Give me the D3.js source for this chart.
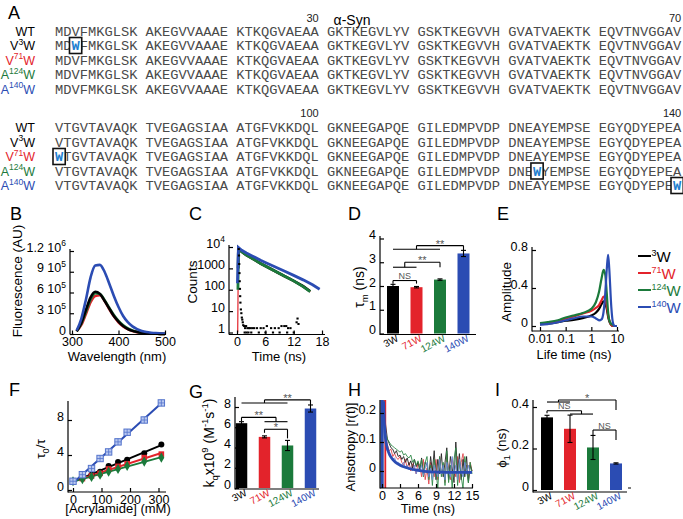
<!DOCTYPE html>
<html><head><meta charset="utf-8">
<script src="https://cdn.jsdelivr.net/npm/d3@7/dist/d3.min.js"></script>
<style>
body{margin:0;background:#fff}
svg text{font-family:"Liberation Sans",Arial,sans-serif}
svg text.mono{font-family:"Liberation Mono","DejaVu Sans Mono",monospace;white-space:pre}
</style></head>
<body><svg id="fig" width="683" height="519"></svg>
<script>
// ================= DATA =================
const variants = ["3W","71W","124W","140W"];
const colors = ["#000000","#e3232b","#1b7a3b","#2b4cb3"];

// Panel A – sequences
const seqLabelBase = ["WT","V","V","A","A"];
const seqLabelSup  = ["","3","71","124","140"];
const seqLabelColor = ["#000000","#000000","#e3232b","#1b7a3b","#2b4cb3"];
const seqBlock1 = ["MDVFMKGLSK","AKEGVVAAAE","KTKQGVAEAA","GKTKEGVLYV","GSKTKEGVVH","GVATVAEKTK","EQVTNVGGAV"];
const seqBlock2 = ["VTGVTAVAQK","TVEGAGSIAA","ATGFVKKDQL","GKNEEGAPQE","GILEDMPVDP","DNEAYEMPSE","EGYQDYEPEA"];
const seqMutation = [null,3,71,124,140];
const seqNumbers = [30,70,100,140];

// Panel B – emission spectra (x1e5)
const bWavelength = [310,320,330,340,350,360,370,380,390,400,410,420,430,440,450,460,470,480,490,500];
const b3W   = [0.4,1.6,3.5,5.3,6.1,5.8,4.8,3.7,2.6,1.8,1.15,0.72,0.45,0.28,0.17,0.1,0.06,0.04,0.02,0.01];
const b71W  = [0.4,1.3,2.9,4.6,5.5,5.6,4.8,3.6,2.55,1.7,1.1,0.7,0.44,0.27,0.17,0.1,0.06,0.04,0.02,0.01];
const b124W = [0.4,1.5,3.2,5.0,5.9,5.8,4.9,3.8,2.75,1.9,1.25,0.8,0.5,0.31,0.19,0.12,0.07,0.04,0.02,0.01];
const b140W = [0.5,2.2,5.0,8.2,9.9,10.0,9.0,7.3,5.5,3.9,2.6,1.7,1.1,0.7,0.45,0.29,0.19,0.12,0.08,0.05];
const bTicks = [0,3e5,6e5,9e5,1.2e6];

// Panel C – fluorescence decays (counts)
const cTime3W   = [0.25,0.3,1,2,3,4,5,6,8,10,12,14,15.5];
const cCount3W  = [1000,8600,6000,4200,3100,2300,1700,1300,750,440,260,145,84];
const cTime71W  = [0.15,0.3,1,2,3,4,5,6,8,10,12,14,15.5];
const cCount71W = [1,8300,5800,4050,3000,2200,1640,1250,720,420,250,140,80];
const cTime124W = [0.2,0.3,1,2,3,4,5,6,8,10,12,14,15.5];
const cCount124W= [100,8500,6000,4200,3100,2300,1700,1300,750,440,260,140,82];
const cTime140W = [0.1,0.3,1,2,3,4,5,6,8,10,12,14,16,17.5];
const cCount140W= [200,9500,7000,5200,4000,3100,2400,1900,1200,750,470,290,170,105];
const cIrfTime  = [0.35,0.4,0.45,0.5,0.55,0.6,0.65,0.7,0.8,0.9,1.0,1.1,1.2,1.3,1.5,1.7,1.9,2.2,2.5,2.8,3.2,3.6,4.2,5.0,5.6,6.3,7.2,8.0,8.8,9.4,10.0,10.4,10.8,11.3,12.6,12.8,13.0,1.6,2.0,2.4,3.0,4.6,6.0,7.6,9.0,10.6,12.0];
const cIrfCount = [8000,4000,1600,600,250,110,50,25,12,8,5,4,3,2.2,2,1.6,2,1.6,1.6,1.6,1.6,1.6,1.6,1.6,1.6,2,1.6,1.6,1.6,2,2,2,1.6,1.6,3,4.5,2.5,1,1,1,1,1,1,1,1,1,1];
const cYTicks = [1,10,100,1000,10000];
const cXTicks = [0,6,12,18];

// Panel D – mean lifetime (ns)
const dTau = [2.0,1.95,2.27,3.37];
const dErr = [0.07,0.03,0.03,0.13];

// Panel E – lifetime distributions
const eLifetime = [0.01,0.02,0.05,0.1,0.2,0.5,1,1.5,2,2.5,3,3.5,4,4.5,5,6,7,8,10];
const e3W   = [0.02,0.025,0.04,0.055,0.065,0.085,0.11,0.14,0.18,0.23,0.26,0.24,0.18,0.1,0.05,0.01,0,0,0];
const e71W  = [0.02,0.03,0.05,0.08,0.1,0.135,0.16,0.19,0.22,0.27,0.31,0.29,0.21,0.12,0.06,0.01,0,0,0];
const e124W = [0.03,0.04,0.06,0.09,0.11,0.14,0.18,0.25,0.36,0.5,0.59,0.54,0.34,0.15,0.06,0.02,0.01,0,0];
const e140W = [0.015,0.02,0.04,0.06,0.08,0.1,0.1,0.08,0.06,0.07,0.15,0.35,0.6,0.75,0.6,0.2,0.03,0,0];

// Panel F – Stern-Volmer
const fAcrylamide = [0,33,65,95,125,158,190,250,310];
const f3W   = [1.0,1.35,1.75,2.1,2.75,3.2,3.45,4.2,5.2];
const f71W  = [1.0,1.3,1.6,1.9,2.4,2.7,3.0,3.7,4.1];
const f124W = [1.0,1.25,1.5,1.75,2.1,2.4,2.75,3.25,3.7];
const f140W = [1.0,1.75,2.45,3.6,4.35,5.5,6.6,8.0,9.95];

// Panel G – kq x1e9
const gKq  = [6.4,5.05,4.2,7.85];
const gErr = [0.15,0.1,0.5,0.35];

// Panel H – anisotropy decays
const hTime = [0.3,0.6,0.9,1.2,1.5,1.8,2.1,2.4,2.7,3.0,3.3,3.6,3.9,4.2,4.5,4.8,5.1,5.4,5.7,6.0,6.3,6.6,6.9,7.2,7.5,7.8,8.1,8.4,8.7,9.0,9.3,9.6,9.9,10.2,10.5,10.8,11.1,11.4,11.7,12.0,12.3,12.6,12.9,13.2,13.5,13.8,14.1,14.4,14.7,15.0];
const h3W   = [0.26,0.16,0.11,0.095,0.08,0.075,0.06,0.07,0.05,0.055,0.04,0.05,0.03,0.045,0.02,0.035,0.01,0.04,0.015,0.03,0.0,0.045,-0.01,0.03,0.02,-0.02,0.05,0.0,0.07,-0.03,0.04,-0.01,0.06,-0.02,0.03,0.08,-0.03,0.05,0.01,-0.04,0.1,0.0,0.06,-0.03,0.04,-0.02,0.05,-0.04,0.02,0.0];
const h71W  = [0.25,0.12,0.09,0.07,0.075,0.05,0.06,0.045,0.04,0.05,0.03,0.02,0.04,0.01,0.03,0.0,0.025,0.01,-0.01,0.03,0.02,-0.02,0.04,-0.03,0.01,-0.045,0.03,0.0,-0.02,0.04,-0.03,0.05,-0.01,0.02,-0.04,0.06,0.0,-0.03,0.04,0.01,-0.02,0.05,-0.04,0.03,0.06,-0.01,0.02,-0.03,0.03,0.0];
const h124W = [0.22,0.13,0.11,0.1,0.09,0.085,0.08,0.075,0.07,0.065,0.07,0.055,0.06,0.05,0.045,0.055,0.03,0.04,0.02,0.035,0.01,0.04,-0.02,0.03,0.05,-0.03,0.02,-0.05,0.04,0.0,-0.06,0.05,-0.02,0.03,-0.05,0.07,-0.04,0.02,-0.06,0.04,0.08,-0.05,0.03,-0.02,-0.06,0.05,0.0,-0.04,0.03,-0.01];
const h140W = [0.2,0.1,0.07,0.06,0.05,0.04,0.045,0.03,0.03,0.025,0.02,0.03,0.01,0.02,0.005,0.015,0.0,0.02,-0.01,0.01,0.0,0.02,-0.015,0.01,0.03,-0.02,0.01,-0.03,0.02,0.0,-0.02,0.04,-0.01,0.02,-0.03,0.03,0.0,-0.02,0.05,-0.01,0.02,-0.03,0.04,0.0,-0.02,0.03,-0.01,0.02,-0.01,0.0];
const hFitTime = [0.25,0.4,0.6,0.8,1.0,1.3,1.6,2,2.5,3,4,5,6,8,10,12,15];
const hFit140  = [0.24,0.16,0.11,0.085,0.07,0.055,0.045,0.035,0.026,0.02,0.012,0.006,0.002,-0.003,-0.004,-0.005,-0.005];
const hRiseTime = [null,0.55,null,0.02];

// Panel I – rotational correlation time
const iPhi = [0.35,0.295,0.205,0.128];
const iErr = [0.01,0.066,0.058,0.003];

// ================= DRAWING =================
const svg = d3.select("#fig");
const TF = 12.5; // tick font

function rich(sel, parts, fs, supScale){
  let shift = 0;
  const sc = supScale || 0.68;
  parts.forEach(p => {
    const t = p[0], k = p[1] || "";
    const target = k === "sup" ? -0.42*fs : (k === "sub" ? 0.3*fs : 0);
    const ts = sel.append("tspan").text(t).attr("dy", target - shift);
    if (k) ts.attr("font-size", fs*sc);
    shift = target;
  });
  return sel;
}
function label(t, x, y){ svg.append("text").attr("x",x).attr("y",y).attr("font-size",18).text(t); }
function hline(g, x1, x2, y, w){ g.append("line").attr("x1",x1).attr("x2",x2).attr("y1",y).attr("y2",y).attr("stroke","#000").attr("stroke-width",w||1.2); }
function vline(g, x, y1, y2, w){ g.append("line").attr("x1",x).attr("x2",x).attr("y1",y1).attr("y2",y2).attr("stroke","#000").attr("stroke-width",w||1.2); }
function yTitle(x, y, parts, fs){
  const t = svg.append("text").attr("transform",`translate(${x},${y}) rotate(-90)`).attr("text-anchor","middle").attr("font-size",fs||13);
  rich(t, parts, fs||13);
}
function xTitle(x, y, txt, fs){
  svg.append("text").attr("x",x).attr("y",y).attr("text-anchor","middle").attr("font-size",fs||13).text(txt);
}
function leftAxis(scale, x, ticks, fmt){
  const g = svg.append("g").attr("transform",`translate(${x},0)`)
    .call(d3.axisLeft(scale).tickValues(ticks).tickSizeInner(-4).tickSizeOuter(0).tickPadding(4).tickFormat(()=>""));
  g.select(".domain").remove();
  g.selectAll(".tick line").attr("stroke","#000").attr("stroke-width",1.2);
  g.selectAll(".tick text").attr("font-size",TF).attr("fill","#000")
    .each(function(d){ rich(d3.select(this), fmt(d), TF); });
  return g;
}
function bottomAxis(scale, y, ticks, fmt){
  const g = svg.append("g").attr("transform",`translate(0,${y})`)
    .call(d3.axisBottom(scale).tickValues(ticks).tickSizeInner(-4).tickSizeOuter(0).tickPadding(3).tickFormat(fmt));
  g.select(".domain").remove();
  g.selectAll(".tick line").attr("stroke","#000").attr("stroke-width",1.2);
  g.selectAll(".tick text").attr("font-size",TF).attr("fill","#000");
  return g;
}
const plain = d => [[String(d)]];

// ---------- Panel A ----------
label("A", 8, 19);
svg.append("text").attr("x",352).attr("y",25).attr("text-anchor","middle").attr("font-size",14).text("α-Syn");
const seqX0 = 55, cw = 8.24, seqFS = 13.7;
const rowY = [[35.5,50,64.5,79,93.5],[132,146.5,161,175.5,190]];
const numY = [22, 117];
[seqBlock1, seqBlock2].forEach((block, bi) => {
  const nums = seqNumbers.slice(bi*2, bi*2+2);
  nums.forEach((n, j) => {
    const gIdx = j === 0 ? 2 : 6;
    svg.append("text").attr("x", seqX0 + (gIdx*11+10)*cw).attr("y", numY[bi])
      .attr("text-anchor","end").attr("font-size",11).attr("fill","#222").text(n);
  });
  seqLabelBase.forEach((base, r) => {
    const y = rowY[bi][r];
    const lt = svg.append("text").attr("x",35).attr("y",y).attr("text-anchor","end").attr("font-size",12.5).attr("fill",seqLabelColor[r]);
    if (seqLabelSup[r]) rich(lt, [[base],[seqLabelSup[r],"sup"],["W"]], 12.5); else lt.text(base);
    const mut = seqMutation[r];
    block.forEach((grp, gi) => {
      let s = grp;
      let mIdx = -1;
      if (mut !== null) {
        const local = mut - 1 - bi*70;
        if (local >= 0 && local < 70 && Math.floor(local/10) === gi) {
          mIdx = local % 10;
          s = grp.slice(0,mIdx) + "\u00a0" + grp.slice(mIdx+1);
        }
      }
      svg.append("text").attr("class","mono").attr("x", seqX0 + gi*11*cw).attr("y", y)
        .attr("font-size",seqFS).attr("textLength",10*cw).attr("lengthAdjust","spacingAndGlyphs")
        .attr("fill","#4a4a4a").text(s);
      if (mIdx >= 0) {
        const cx = seqX0 + (gi*11 + mIdx)*cw;
        svg.append("rect").attr("x",cx-2).attr("y",y-12.5).attr("width",cw+4).attr("height",16)
          .attr("fill","#fff").attr("stroke","#111").attr("stroke-width",1.6);
        svg.append("text").attr("class","mono").attr("x",cx+cw/2).attr("y",y).attr("text-anchor","middle")
          .attr("font-size",seqFS).attr("font-weight","bold").attr("fill","#1f7fd0").text("W");
      }
    });
  });
});

// ---------- Panel B ----------
label("B", 10, 220);
{
  const x = d3.scaleLinear().domain([300,500]).range([72,165]);
  const y = d3.scaleLinear().domain([0,1.2e6]).range([334,251]);
  const series = [b3W,b71W,b124W,b140W];
  const line = d3.line().x((d,i)=>x(bWavelength[i])).y(d=>y(d*1e5)).curve(d3.curveMonotoneX);
  [1,2,0,3].forEach(k => {
    svg.append("path").attr("d", line(series[k])).attr("fill","none").attr("stroke",colors[k]).attr("stroke-width",2.6);
  });
  const g = svg.append("g");
  vline(g, 70, 334.5, 249); hline(g, 70, 166, 334.5);
  leftAxis(y, 70, bTicks, d => d === 0 ? [["0"]] : [[d === 1.2e6 ? "1.2 10" : String(d/1e5)+" 10"],[d === 1.2e6 ? "6" : "5","sup"]]);
  bottomAxis(x, 334.5, [300,400,500], d3.format("d"));
  yTitle(22, 281, [["Fluorescence (AU)"]], 13.5);
  xTitle(117, 361, "Wavelength (nm)");
}

// ---------- Panel C ----------
label("C", 189, 220);
{
  const x = d3.scaleLinear().domain([0,18]).range([237,322]);
  const y = d3.scaleLog().domain([1,1e4]).range([332.5,247]);
  svg.append("clipPath").attr("id","clipC").append("rect").attr("x",229).attr("y",240).attr("width",100).attr("height",95);
  const gp = svg.append("g").attr("clip-path","url(#clipC)");
  const ts = [cTime3W,cTime71W,cTime124W,cTime140W];
  const cs = [cCount3W,cCount71W,cCount124W,cCount140W];
  [0,1,2,3].forEach(k => {
    const line = d3.line().x((d,i)=>x(ts[k][i])).y(d=>y(d));
    gp.append("path").attr("d", line(cs[k])).attr("fill","none").attr("stroke",colors[k]).attr("stroke-width",k===1?1.2:2.8);
  });
  cIrfTime.forEach((t,i) => {
    gp.append("rect").attr("x",x(t)-1).attr("y",y(cIrfCount[i])-1).attr("width",2.2).attr("height",2).attr("fill","#000");
  });
  const g = svg.append("g");
  vline(g, 229, 334.5, 245); hline(g, 229, 325, 334.5);
  leftAxis(y, 229, cYTicks, d => d === 10000 ? [["10"],["4","sup"]] : [[String(d)]]);
  bottomAxis(x, 334.5, cXTicks, d3.format("d"));
  yTitle(197, 282, [["Counts"]], 13.5);
  xTitle(279, 361, "Time (ns)");
}

// bar-chart helper
function barPanel(opts){
  const x = d3.scalePoint().domain(variants).range(opts.xr);
  const y = d3.scaleLinear().domain(opts.yd).range(opts.yr);
  const g = svg.append("g");
  opts.vals.forEach((v,i) => {
    const cx = x(variants[i]);
    g.append("rect").attr("x",cx-opts.bw/2).attr("y",y(v)).attr("width",opts.bw).attr("height",y(0)-y(v)).attr("fill",colors[i]);
    const e = opts.err[i];
    g.append("line").attr("x1",cx).attr("x2",cx).attr("y1",y(v-e)).attr("y2",y(v+e)).attr("stroke","#000").attr("stroke-width",1.1);
    hline(g, cx-2.5, cx+2.5, y(v+e), 1.1);
    hline(g, cx-2.5, cx+2.5, y(v-e), 1.1);
  });
  vline(g, opts.ax, opts.axisY+0.5, opts.axTop); hline(g, opts.ax, opts.axRight, opts.axisY);
  leftAxis(y, opts.ax, opts.ticks, opts.fmt);
  variants.forEach((v,i) => {
    const cx = x(v) + 6;
    svg.append("text").attr("transform",`translate(${cx},${opts.axisY+6}) rotate(-28)`).attr("text-anchor","end")
      .attr("font-size",10).attr("fill",colors[i]).text(v);
  });
  opts.brackets.forEach(b => {
    const attach = (grp, yLine) => {
      if (grp.length > 1) {
        const xa = x(variants[grp[0]]), xb = x(variants[grp[grp.length-1]]);
        hline(g, xa, xb, y(yLine), 1.1);
        const m = (xa+xb)/2;
        vline(g, m, y(yLine), y(b.top), 1.1);
        return m;
      } else {
        const xa = x(variants[grp[0]]);
        vline(g, xa, y(b.top), y(yLine), 1.1);
        return xa;
      }
    };
    const xl = attach(b.L, b.lLine), xr = attach(b.R, b.rLine);
    hline(g, xl, xr, y(b.top), 1.1);
    svg.append("text").attr("x",(xl+xr)/2).attr("y",y(b.top)-(b.text==="NS"?1.5:-2)).attr("text-anchor","middle")
      .attr("font-size",b.text==="NS"?9:11).attr("fill","#555").text(b.text);
  });
  return {x,y};
}

// ---------- Panel D ----------
label("D", 348, 220);
barPanel({xr:[393,463.5], yd:[0,4], yr:[333.5,238.5], bw:12, vals:dTau, err:dErr, ax:380, axisY:334.5, axTop:236, axRight:476,
  ticks:[0,1,2,3,4], fmt:plain,
  brackets:[
    {L:[0,1,2], lLine:3.55, R:[3], rLine:3.45, top:3.7, text:"**"},
    {L:[0,1], lLine:2.79, R:[2], rLine:2.79, top:3.0, text:"**"},
    {L:[0], lLine:2.1, R:[1], rLine:2.1, top:2.23, text:"NS"}
  ]});
yTitle(364, 287, [["τ"],["m","sub"],[" (ns)"]], 14);

// ---------- Panel E ----------
label("E", 497, 220);
{
  const x = d3.scaleLog().domain([0.01,10]).range([540,617]);
  const y = d3.scaleLinear().domain([0,0.8]).range([326,250]);
  const series = [e3W,e71W,e124W,e140W];
  const line = d3.line().x((d,i)=>x(eLifetime[i])).y(d=>y(d)).curve(d3.curveMonotoneX);
  [0,1,2,3].forEach(k => {
    svg.append("path").attr("d", line(series[k])).attr("fill","none").attr("stroke",colors[k]).attr("stroke-width",2.2);
  });
  const g = svg.append("g");
  vline(g, 532, 331.5, 247); hline(g, 532, 619, 331);
  leftAxis(y, 532, [0,0.4,0.8], d => [[d===0?"0":String(d)]]);
  bottomAxis(x, 331, [0.01,0.1,1,10], d => String(d));
  yTitle(511, 292, [["Amplitude"]], 13.5);
  xTitle(574, 359, "Life time (ns)");
  variants.forEach((v,i) => {
    const ly = 256 + i*17;
    svg.append("line").attr("x1",638).attr("x2",651).attr("y1",ly).attr("y2",ly).attr("stroke",colors[i]).attr("stroke-width",2);
    const t = svg.append("text").attr("x",651.5).attr("y",ly+6).attr("font-size",15).attr("fill",colors[i]);
    rich(t, [[v.replace("W",""),"sup"],["W"]], 15, 0.6);
  });
}

// ---------- Panel F ----------
label("F", 9, 396);
{
  const x = d3.scaleLinear().domain([0,300]).range([73,158.5]);
  const y = d3.scaleLinear().domain([0,8]).range([490,420]);
  const series = [f3W,f71W,f124W,f140W];
  series.forEach((s,k) => {
    const n = s.length, mx = d3.mean(fAcrylamide), my = d3.mean(s);
    const slope = d3.sum(fAcrylamide.map((a,i)=>(a-mx)*(s[i]-my))) / d3.sum(fAcrylamide.map(a=>(a-mx)*(a-mx)));
    const icp = my - slope*mx;
    const x0 = fAcrylamide[0], x1 = fAcrylamide[n-1];
    svg.append("line").attr("x1",x(x0)).attr("x2",x(x1)).attr("y1",y(icp+slope*x0)).attr("y2",y(icp+slope*x1))
      .attr("stroke",colors[k]).attr("stroke-width",2);
  });
  f3W.forEach((v,i)=> svg.append("circle").attr("cx",x(fAcrylamide[i])).attr("cy",y(v)).attr("r",3).attr("fill","#000"));
  f71W.forEach((v,i)=> svg.append("rect").attr("x",x(fAcrylamide[i])-2.8).attr("y",y(v)-2.8).attr("width",5.6).attr("height",5.6).attr("fill",colors[1]));
  f124W.forEach((v,i)=> svg.append("path").attr("d",d3.symbol(d3.symbolDiamond,30)()).attr("transform",`translate(${x(fAcrylamide[i])},${y(v)})`).attr("fill",colors[2]));
  f140W.forEach((v,i)=> {
    const cx = x(fAcrylamide[i]), cy = y(v);
    svg.append("rect").attr("x",cx-3.2).attr("y",cy-3.2).attr("width",6.4).attr("height",6.4).attr("fill","#b9c8f0").attr("stroke","#5474cc").attr("stroke-width",1);
    svg.append("path").attr("d",`M${cx-3.2},${cy}H${cx+3.2}M${cx},${cy-3.2}V${cy+3.2}`).attr("stroke","#5474cc").attr("stroke-width",0.8);
  });
  const g = svg.append("g");
  vline(g, 68, 492.5, 401); hline(g, 68, 166, 492);
  leftAxis(y, 68, [0,4,8], plain);
  bottomAxis(x, 492, [0,100,200,300], d3.format("d"));
  yTitle(45, 449, [["τ"],["0","sub"],["/τ"]], 13.5);
  xTitle(118, 513, "[Acrylamide] (mM)");
}

// ---------- Panel G ----------
label("G", 189, 398);
barPanel({xr:[241.5,310.5], yd:[0,8], yr:[488,407], bw:11.5, vals:gKq, err:gErr, ax:235, axisY:489, axTop:397, axRight:319,
  ticks:[0,2,4,6,8], fmt:plain,
  brackets:[
    {L:[0,1,2], lLine:8.4, R:[3], rLine:8.2, top:8.7, text:"**"},
    {L:[0], lLine:6.6, R:[1,2], rLine:6.55, top:6.98, text:"**"},
    {L:[1], lLine:5.45, R:[2], rLine:4.9, top:5.8, text:"*"}
  ]});
{
  const t = svg.append("text").attr("transform","translate(214,443) rotate(-90)").attr("text-anchor","middle").attr("font-size",14);
  rich(t, [["k"],["q","sub"],["x10"],["9","sup"],[" (M"],["-1","sup"],["s"],["-1","sup"],[")"]], 14);
}

// ---------- Panel H ----------
label("H", 348, 396);
{
  const x = d3.scaleLinear().domain([0,15]).range([382,472]);
  const y = d3.scaleLinear().domain([0,0.2]).range([471,413]);
  svg.append("clipPath").attr("id","clipH").append("rect").attr("x",380).attr("y",400).attr("width",95).attr("height",88);
  const gp = svg.append("g").attr("clip-path","url(#clipH)");
  gp.append("rect").attr("x",379).attr("y",400).attr("width",5).attr("height",88).attr("fill","#c5cbd8");
  const series = [h3W,h71W,h124W,h140W];
  const hc = ["#222","#e0484f","#2f8a48","#6d8ad8"];
  const line = d3.line().x((d,i)=>x(hTime[i])).y(d=>y(d));
  [1,0,2,3].forEach(k => {
    gp.append("path").attr("d", line(series[k])).attr("fill","none").attr("stroke",hc[k]).attr("stroke-width",1).attr("opacity",0.9);
  });
  hRiseTime.forEach((t,k) => {
    if (t === null) return;
    gp.append("line").attr("x1",x(t)).attr("x2",x(t)).attr("y1",400).attr("y2",488).attr("stroke",colors[k]).attr("stroke-width",k===3?3:1.8);
  });
  const fl = d3.line().x((d,i)=>x(hFitTime[i])).y(d=>y(d)).curve(d3.curveMonotoneX);
  gp.append("path").attr("d", fl(hFit140)).attr("fill","none").attr("stroke",colors[3]).attr("stroke-width",2.8);
  const g = svg.append("g");
  vline(g, 380, 488.5, 400); hline(g, 380, 473, 488);
  leftAxis(y, 380, [0,0.1,0.2], d => [[d===0?"0":String(d)]]);
  bottomAxis(x, 488, [0,3,6,9,12,15], d3.format("d"));
  yTitle(355, 447, [["Anisotropy [r(t)]"]], 13);
  xTitle(428, 513, "Time (ns)");
}

// ---------- Panel I ----------
label("I", 495, 396);
barPanel({xr:[547,616], yd:[0,0.4], yr:[490,407], bw:12, vals:iPhi, err:iErr, ax:533, axisY:492, axTop:400, axRight:627,
  ticks:[0,0.2,0.4], fmt:d => [[d===0?"0":String(d)]],
  brackets:[
    {L:[0,1], lLine:0.424, R:[3], rLine:0.386, top:0.434, text:"*"},
    {L:[0], lLine:0.37, R:[1,2], rLine:0.366, top:0.382, text:"NS"},
    {L:[2], lLine:0.265, R:[3], rLine:0.241, top:0.289, text:"NS"}
  ]});
svg.append("line").attr("x1",628).attr("x2",631).attr("y1",488).attr("y2",488).attr("stroke","#000").attr("stroke-width",1);
yTitle(506, 448, [["ϕ"],["1","sub"],[" (ns)"]], 13.5);
</script>
</body></html>
